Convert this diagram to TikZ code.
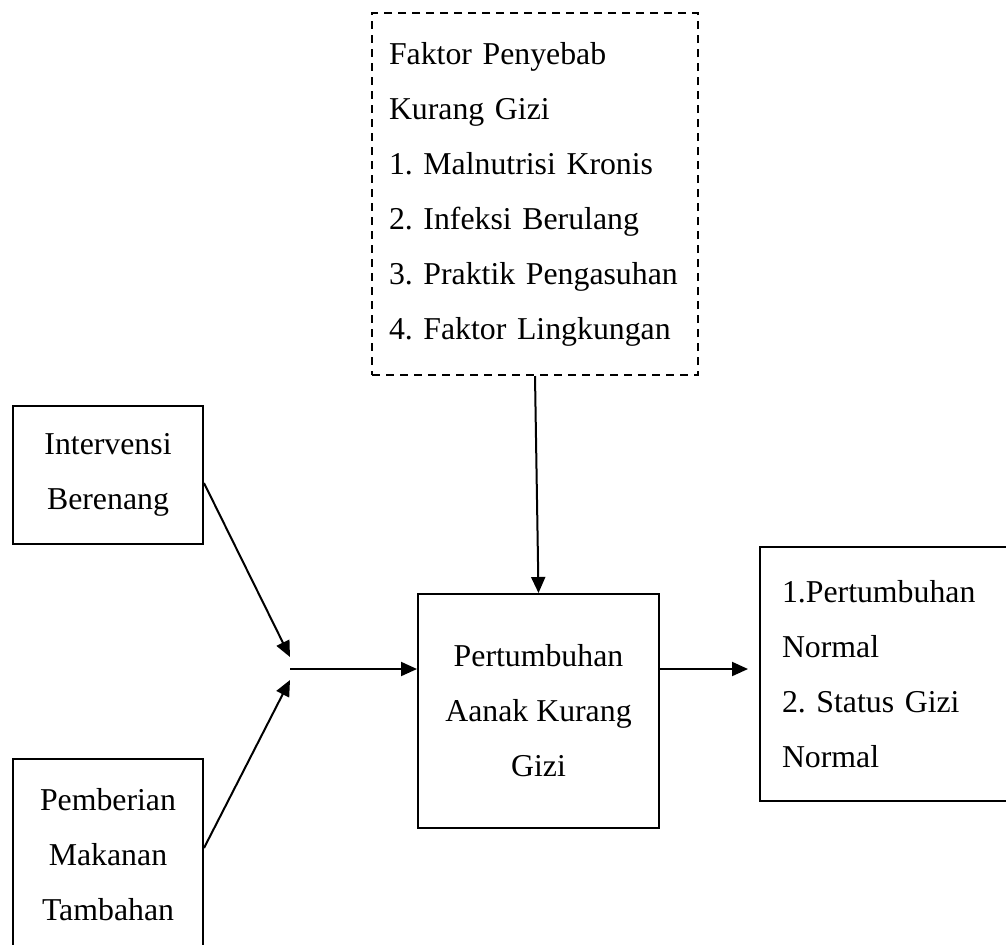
\documentclass[tikz,border=0pt]{standalone}
\usepackage{fontspec}
\setmainfont{Liberation Serif}
\usetikzlibrary{arrows.meta}
\frenchspacing

\begin{document}
\begin{tikzpicture}[x=0.5pt, y=-0.5pt, line width=1pt,
    >={Triangle[length=8pt,width=7pt]},
    kotak/.style={draw, inner sep=0pt, font=\fontsize{15.9pt}{27.5pt}\selectfont}]
    \useasboundingbox (0,0) rectangle (1006,944);
    \clip (0,0) rectangle (1006,944);

    \node[kotak, dash pattern=on 4pt off 3pt, minimum width=163pt, minimum height=181pt, text width=146pt, align=left] (faktor) at (535,194) {Faktor Penyebab\\ Kurang Gizi\\ 1. Malnutrisi Kronis\\ 2. Infeksi Berulang\\ 3. Praktik Pengasuhan\\ 4. Faktor Lingkungan};

    \node[kotak, minimum width=95pt, minimum height=69pt, align=center] (renang) at (108,475) {Intervensi\\ Berenang};
    \node[kotak, minimum width=95pt, minimum height=96pt, align=center] (makanan) at (108,855) {Pemberian\\ Makanan\\ Tambahan};

    \node[kotak, minimum width=120.5pt, minimum height=117pt, align=center] (tumbuh) at (538.5,711) {Pertumbuhan\\ Aanak Kurang\\ Gizi};
    \node[kotak, minimum width=135pt, minimum height=127pt, text width=113pt, align=left] (hasil) at (895,674) {1.Pertumbuhan\\ Normal\\ 2. Status Gizi\\ Normal};

    \coordinate (gabung) at (290,669);

    \draw[->] ([yshift=-4pt]renang.east) -- ([yshift=6pt]gabung);
    \draw[->] ([yshift=3.5pt]makanan.east) -- ([yshift=-5.5pt]gabung);
    \draw[->] (gabung) -- (gabung -| tumbuh.west);
    \draw[->] (faktor.south) -- (tumbuh.north);
    \draw[->, shorten >=5.5pt] (gabung -| tumbuh.east) -- (gabung -| hasil.west);
\end{tikzpicture}
\end{document}
